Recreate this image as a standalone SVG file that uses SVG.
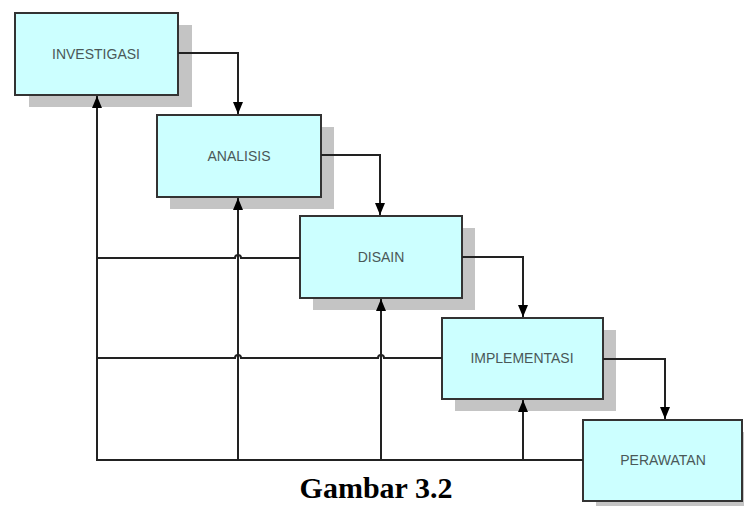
<svg xmlns="http://www.w3.org/2000/svg" width="744" height="506" viewBox="0 0 744 506">
<style>
.shadow{fill:#c4c4c4;stroke:none}
.box{fill:#ccffff;stroke:#333;stroke-width:2}
.lbl{font-family:"Liberation Sans",Arial,sans-serif;font-size:14px;fill:#4a5858;text-anchor:middle;dominant-baseline:central}
.ln{fill:none;stroke:#222;stroke-width:2}
.cap{font-family:"Liberation Serif","Times New Roman",serif;font-weight:bold;font-size:30px;fill:#000;text-anchor:middle}
</style>
<defs>
<marker id="ah" markerUnits="userSpaceOnUse" markerWidth="13" markerHeight="11" refX="12" refY="5" orient="auto">
<path d="M0,0 L12,5 L0,10 z" fill="#000"/>
</marker>
</defs>
<rect width="744" height="506" fill="#fff"/>
<g id="investigasi">
<rect class="shadow" x="29" y="25" width="163" height="82"/>
<rect class="box" x="15" y="13" width="163" height="82"/>
<text class="lbl" x="96" y="54">INVESTIGASI</text>
</g>
<g id="analisis">
<rect class="shadow" x="170" y="127" width="164" height="82"/>
<rect class="box" x="157" y="115" width="164" height="82"/>
<text class="lbl" x="239" y="156">ANALISIS</text>
</g>
<g id="disain">
<rect class="shadow" x="313" y="228" width="162" height="82"/>
<rect class="box" x="300" y="216" width="162" height="82"/>
<text class="lbl" x="381" y="257">DISAIN</text>
</g>
<g id="implementasi">
<rect class="shadow" x="455" y="330" width="161" height="81"/>
<rect class="box" x="442" y="318" width="161" height="81"/>
<text class="lbl" x="522" y="358">IMPLEMENTASI</text>
</g>
<g id="perawatan">
<rect class="shadow" x="596" y="432" width="160" height="81"/>
<rect class="box" x="583" y="420" width="159" height="81"/>
<text class="lbl" x="663" y="460">PERAWATAN</text>
</g>
<g id="connectors">
<path class="ln" d="M178,53 H238 V114" marker-end="url(#ah)"/>
<path class="ln" d="M321,155 H380 V215" marker-end="url(#ah)"/>
<path class="ln" d="M462,257 H523 V317" marker-end="url(#ah)"/>
<path class="ln" d="M603,359 H665 V419" marker-end="url(#ah)"/>
<path class="ln" d="M583,460 H97 V96" marker-end="url(#ah)"/>
<path class="ln" d="M238,460 V198" marker-end="url(#ah)"/>
<path class="ln" d="M381,460 V299" marker-end="url(#ah)"/>
<path class="ln" d="M523,460 V400" marker-end="url(#ah)"/>
<path class="ln" d="M300,258 H241 A3,3 0 0 0 235,258 H97"/>
<path class="ln" d="M442,358 H384 A3,3 0 0 0 378,358 H241 A3,3 0 0 0 235,358 H97"/>
</g>
<text class="cap" x="376" y="498">Gambar 3.2</text>
</svg>
